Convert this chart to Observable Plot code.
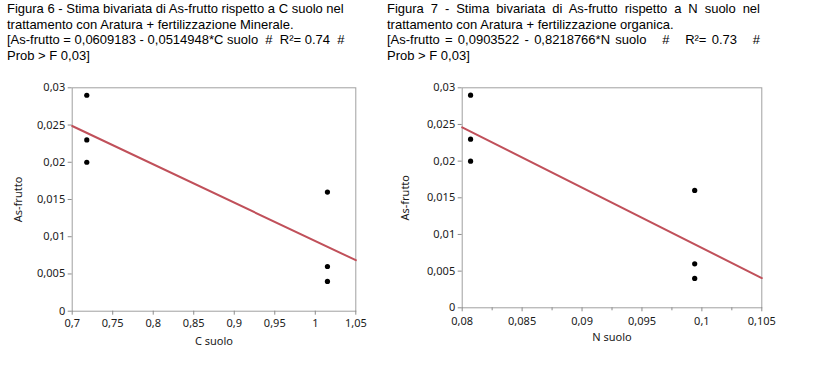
<!DOCTYPE html>
<html>
<head>
<meta charset="utf-8">
<script src="https://cdn.jsdelivr.net/npm/d3@7"></script>
<script src="https://cdn.jsdelivr.net/npm/@observablehq/plot@0.6"></script>
<style>
  body { margin: 0; background: #fff; }
  #wrap { position: relative; width: 820px; height: 366px; overflow: hidden; background: #fff; }
  .title { position: absolute; font-family: "Liberation Sans", Arial, sans-serif; font-size: 13px; line-height: 15.7px; color: #000; }
  .title div { white-space: pre; }
  .title .j { text-align: justify; text-align-last: justify; white-space: normal; }
  .fig { position: absolute; }
</style>
</head>
<body>
<div id="wrap">
  <div class="title" id="t1" style="left:7px; top:1px; width:340px;">
    <div>Figura 6 - Stima bivariata di As-frutto rispetto a C suolo nel</div>
    <div>trattamento con Aratura + fertilizzazione Minerale.</div>
    <div>[As-frutto = 0,0609183 - 0,0514948*C suolo  #  R²= 0.74  #</div>
    <div>Prob &gt; F 0,03]</div>
  </div>
  <div class="title" id="t2" style="left:387px; top:1px; width:373px;">
    <div class="j">Figura 7 - Stima bivariata di As-frutto rispetto a N suolo nel</div>
    <div>trattamento con Aratura + fertilizzazione organica.</div>
    <div class="j">[As-frutto = 0,0903522 - 0,8218766*N suolo &nbsp; # &nbsp; R²= 0.73 &nbsp; #</div>
    <div>Prob &gt; F 0,03]</div>
  </div>
  <div class="fig" id="f1" style="left:0px; top:75px;"></div>
  <div class="fig" id="f2" style="left:380px; top:75px;"></div>
</div>
<script>
// Data
const cSuolo = [0.718, 0.718, 0.718, 1.015, 1.015, 1.015];
const asFruttoC = [0.029, 0.023, 0.020, 0.016, 0.006, 0.004];
const nSuolo = [0.0807, 0.0807, 0.0807, 0.0994, 0.0994, 0.0994];
const asFruttoN = [0.029, 0.023, 0.020, 0.016, 0.006, 0.004];

// Regression coefficients (from the titles)
const regC = {intercept: 0.0609183, slope: -0.0514948};
const regN = {intercept: 0.0903522, slope: -0.8218766};

// Axis ticks
const xTicksC = [0.7, 0.75, 0.8, 0.85, 0.9, 0.95, 1, 1.05];
const xDomainC = [0.7, 1.05];
const xTicksN = [0.08, 0.085, 0.09, 0.095, 0.1, 0.105];
const xMinorN = [0.0825, 0.0875, 0.0925, 0.0975, 0.1025];
const xDomainN = [0.08, 0.105];
const yTicks = [0, 0.005, 0.01, 0.015, 0.02, 0.025, 0.03];
const yDomain = [0, 0.03];

const fmt = d => d3.format("~g")(d).replace(".", ",");
const tickFont = '"Noto Sans", "Open Sans", sans-serif';

function scatter({xs, ys, reg, xDomain, xTicks, xMinor, xLabel, width, height, ml, mr, mt, mb, yOff, xPad, xOff}) {
  const pts = xs.map((x, i) => ({x, y: ys[i]}));
  const line = xDomain.map(x => ({x, y: reg.intercept + reg.slope * x}));
  const marks = [
    Plot.frame({stroke: "#a0a0a0"}),
    Plot.axisY({ticks: yTicks, tickFormat: fmt, tickSize: 4, tickPadding: 3, stroke: "#8c8c8c", fill: "#1a1a1a",
      label: "As-frutto", labelAnchor: "center", labelArrow: "none", labelOffset: yOff, fontSize: 11}),
    Plot.axisX({ticks: xTicks, tickFormat: fmt, tickSize: 4, tickPadding: xPad, stroke: "#8c8c8c", fill: "#1a1a1a",
      label: xLabel, labelAnchor: "center", labelArrow: "none", labelOffset: xOff, fontSize: 11}),
  ];
  if (xMinor) marks.push(Plot.axisX({ticks: xMinor, tickSize: 3, text: null, label: null, stroke: "#8c8c8c"}));
  marks.push(
    Plot.line(line, {x: "x", y: "y", stroke: "#c0505a", strokeWidth: 2}),
    Plot.dot(pts, {x: "x", y: "y", r: 2.6, fill: "#000", stroke: "none"})
  );
  return Plot.plot({
    width, height,
    marginLeft: ml, marginRight: mr, marginTop: mt, marginBottom: mb,
    style: {fontFamily: tickFont, fontSize: "11px", background: "transparent", color: "#1a1a1a"},
    x: {domain: xDomain},
    y: {domain: yDomain},
    marks
  });
}

document.getElementById("f1").appendChild(scatter({
  xs: cSuolo, ys: asFruttoC, reg: regC, xDomain: xDomainC, xTicks: xTicksC, xMinor: null,
  xLabel: "C suolo", width: 380, height: 291, ml: 71.7, mr: 24.7, mt: 12.3, mb: 55.3,
  yOff: 58, xPad: 4, xOff: 34
}));
document.getElementById("f2").appendChild(scatter({
  xs: nSuolo, ys: asFruttoN, reg: regN, xDomain: xDomainN, xTicks: xTicksN, xMinor: xMinorN,
  xLabel: "N suolo", width: 420, height: 291, ml: 81.7, mr: 38.7, mt: 12.3, mb: 58.7,
  yOff: 61, xPad: 5, xOff: 33
}));
</script>
</body>
</html>
